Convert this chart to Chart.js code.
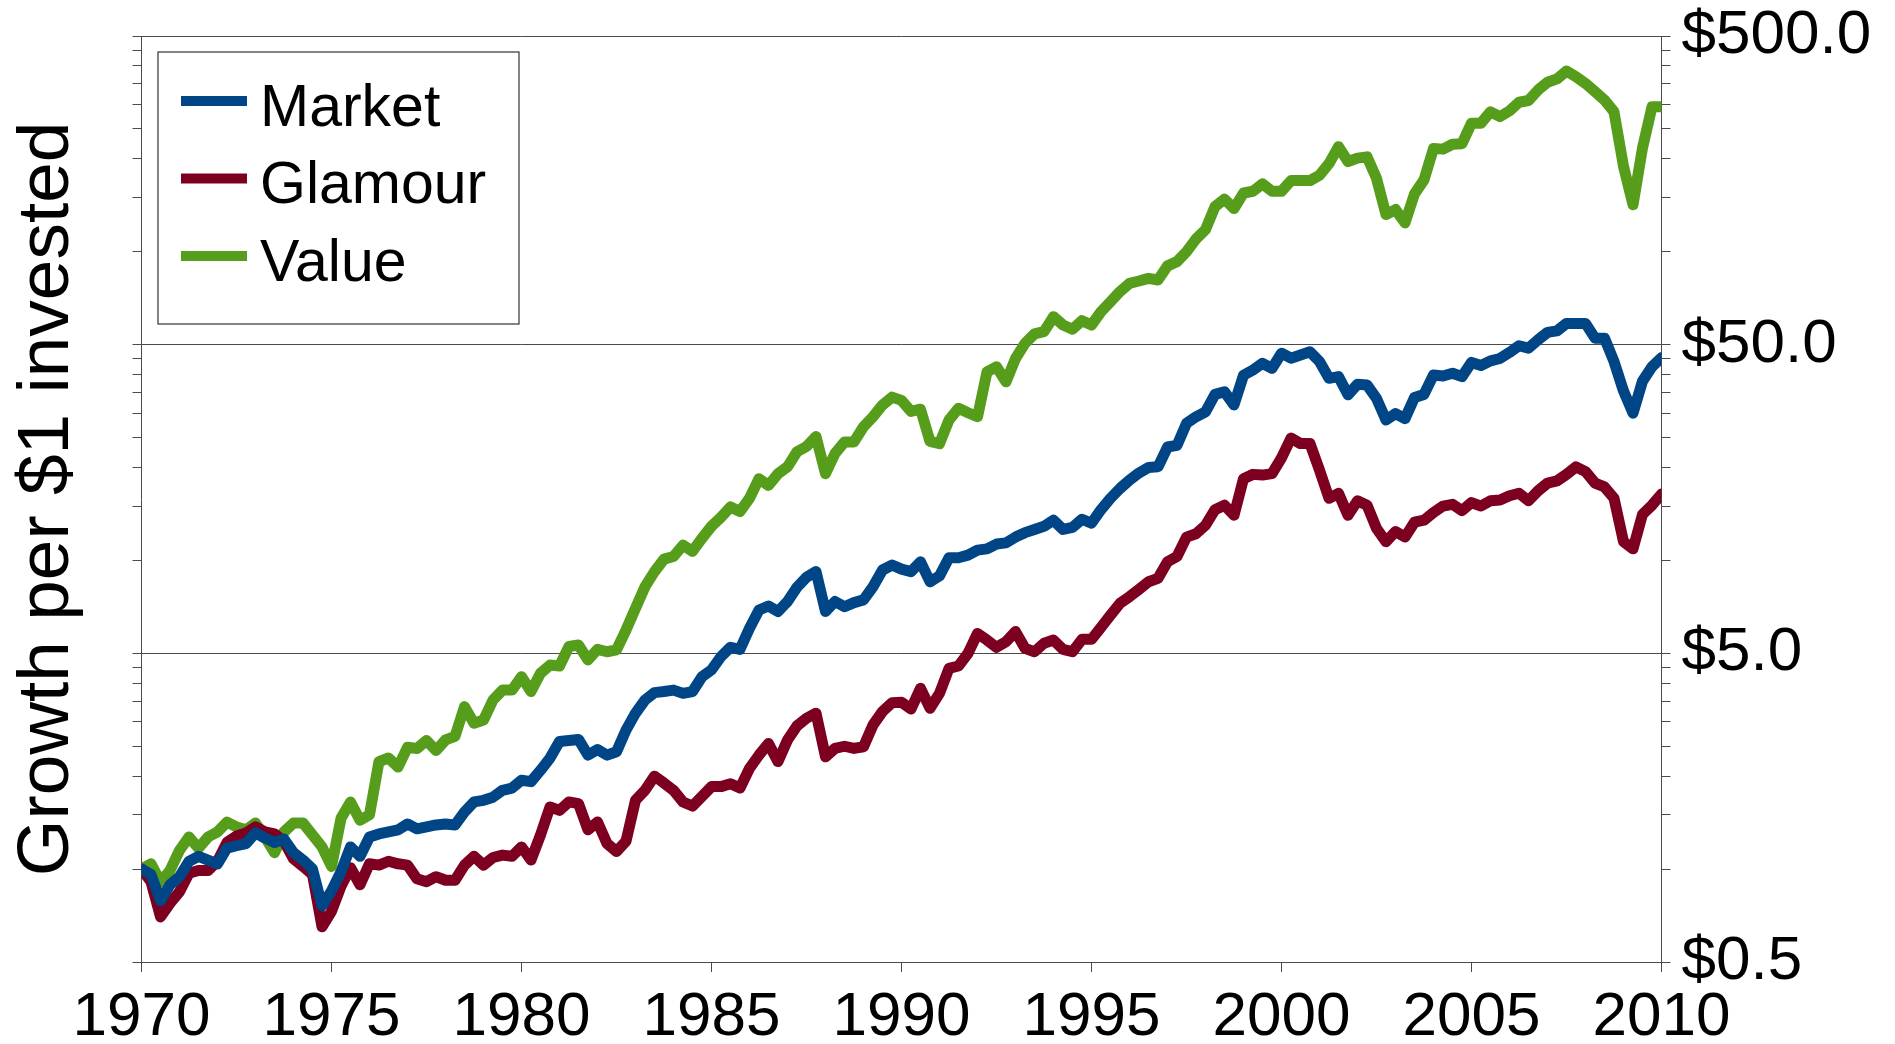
<!DOCTYPE html>
<html>
<head>
<meta charset="utf-8">
<title>Growth per $1 invested</title>
<script src="https://cdn.jsdelivr.net/npm/chart.js@4.4.1/dist/chart.umd.min.js"></script>
<style>
  html, body { margin: 0; padding: 0; background: #fff; }
  #chart { display: block; }
</style>
</head>
<body>
<canvas id="chart" width="1895" height="1044"></canvas>
<script>
// quarterly samples from Jan 1970 to Jan 2010
const quarterYears = Array.from({ length: 161 }, (_, i) => 1970 + i / 4);

// growth of $1 (one row = 2 years)
const market = [
  1.00, 0.96, 0.79, 0.89, 0.945, 1.06, 1.10, 1.07,
  1.04, 1.17, 1.19, 1.21, 1.31, 1.26, 1.22, 1.25,
  1.13, 1.07, 1.00, 0.76, 0.85, 0.98, 1.18, 1.10,
  1.27, 1.30, 1.32, 1.34, 1.40, 1.35, 1.37, 1.39,
  1.40, 1.39, 1.53, 1.65, 1.67, 1.71, 1.80, 1.83,
  1.94, 1.92, 2.09, 2.29, 2.59, 2.61, 2.63, 2.34,
  2.44, 2.34, 2.40, 2.82, 3.20, 3.53, 3.73, 3.76,
  3.80, 3.71, 3.76, 4.20, 4.42, 4.88, 5.23, 5.15,
  6.03, 6.91, 7.12, 6.83, 7.36, 8.19, 8.82, 9.20,
  6.83, 7.36, 7.08, 7.30, 7.45, 8.22, 9.31, 9.66,
  9.37, 9.20, 9.90, 8.53, 8.91, 10.2, 10.2, 10.4,
  10.8, 10.9, 11.3, 11.4, 11.9, 12.3, 12.6, 12.9,
  13.5, 12.6, 12.8, 13.6, 13.2, 14.6, 15.9, 17.1,
  18.2, 19.2, 20.0, 20.1, 23.3, 23.6, 27.8, 29.2,
  30.3, 34.5, 35.2, 31.9, 39.8, 41.4, 43.5, 41.9,
  46.9, 45.2, 46.3, 47.4, 44.1, 38.9, 39.4, 34.4,
  37.2, 37.0, 33.5, 28.5, 29.9, 28.8, 33.7, 34.5,
  39.9, 39.6, 40.4, 39.4, 43.8, 42.8, 44.3, 45.1,
  47.2, 49.6, 48.7, 51.8, 54.8, 55.4, 58.6, 58.6,
  58.6, 52.5, 52.5, 44.1, 35.4, 30.0, 38.1, 42.4,
  45.4
];

const glamour = [
  1.00, 0.91, 0.70, 0.775, 0.845, 0.97, 0.99, 0.99,
  1.06, 1.22, 1.28, 1.31, 1.37, 1.32, 1.30, 1.23,
  1.08, 1.02, 0.96, 0.65, 0.73, 0.88, 1.01, 0.89,
  1.04, 1.03, 1.06, 1.04, 1.03, 0.93, 0.91, 0.945,
  0.92, 0.92, 1.03, 1.10, 1.03, 1.09, 1.11, 1.10,
  1.18, 1.07, 1.29, 1.59, 1.55, 1.65, 1.63, 1.34,
  1.42, 1.21, 1.14, 1.23, 1.67, 1.80, 2.00, 1.90,
  1.80, 1.65, 1.60, 1.72, 1.85, 1.85, 1.89, 1.83,
  2.12, 2.34, 2.55, 2.23, 2.62, 2.91, 3.08, 3.20,
  2.31, 2.46, 2.50, 2.46, 2.49, 2.93, 3.24, 3.46,
  3.47, 3.30, 3.85, 3.32, 3.71, 4.47, 4.55, 5.00,
  5.80, 5.52, 5.23, 5.45, 5.88, 5.19, 5.06, 5.39,
  5.52, 5.15, 5.06, 5.55, 5.55, 6.07, 6.65, 7.26,
  7.63, 8.06, 8.53, 8.75, 9.9, 10.3, 11.9, 12.2,
  13.0, 14.6, 15.1, 14.0, 18.4, 19.0, 18.9, 19.1,
  21.5, 24.9, 23.9, 23.9, 19.6, 15.9, 16.5, 14.0,
  15.6, 15.1, 12.7, 11.5, 12.4, 11.9, 13.3, 13.5,
  14.3, 15.0, 15.2, 14.5, 15.4, 15.0, 15.6, 15.7,
  16.2, 16.5, 15.6, 16.8, 17.8, 18.1, 19.0, 20.1,
  19.4, 17.8, 17.3, 15.9, 11.5, 10.9, 14.1, 15.1,
  16.4
];

const value = [
  1.00, 1.04, 0.91, 0.99, 1.15, 1.27, 1.17, 1.27,
  1.32, 1.42, 1.37, 1.34, 1.41, 1.27, 1.13, 1.32,
  1.41, 1.41, 1.29, 1.18, 1.02, 1.46, 1.65, 1.44,
  1.50, 2.23, 2.29, 2.14, 2.48, 2.46, 2.61, 2.42,
  2.62, 2.69, 3.36, 2.97, 3.04, 3.53, 3.80, 3.80,
  4.20, 3.76, 4.31, 4.58, 4.55, 5.26, 5.32, 4.76,
  5.15, 5.06, 5.13, 5.95, 7.00, 8.22, 9.20, 10.1,
  10.3, 11.2, 10.7, 11.8, 12.9, 13.8, 14.9, 14.4,
  15.9, 18.4, 17.5, 19.1, 20.1, 22.5, 23.4, 25.2,
  19.1, 22.2, 24.2, 24.2, 27.1, 29.2, 31.9, 33.8,
  33.0, 30.4, 30.9, 24.3, 23.9, 28.5, 31.1, 30.1,
  29.2, 40.8, 42.4, 37.9, 45.1, 50.5, 54.2, 55.1,
  61.6, 57.9, 56.1, 59.8, 57.9, 63.9, 68.9, 74.3,
  79.0, 80.4, 82.0, 81.0, 90.0, 92.9, 100, 110,
  118, 140, 148, 138, 155, 157, 166, 157,
  157, 170, 170, 170, 177, 193, 219, 196,
  201, 203, 173, 132, 137, 124, 154, 171,
  216, 215, 223, 224, 261, 261, 284, 274,
  286, 305, 309, 334, 354, 363, 385, 369,
  351, 330, 310, 284, 189, 142, 217, 295,
  295
];

const seriesNames = ['Market', 'Glamour', 'Value'];
const seriesColors = ['#004586', '#7e0021', '#579d1c'];

const majorTicks = [0.5, 5, 50, 500];
const minorSteps = [1, 2, 3, 4, 5, 6, 7, 8, 9, 10];

const FONT = "'Liberation Sans', Arial, sans-serif";
const AXIS = '#4a4a4a';

// log axis ticks at every half-step of each decade, labels only on the major ones
const yTickValues = [];
majorTicks.slice(0, 3).forEach(base => {
  minorSteps.forEach(k => {
    const v = +(base * k).toFixed(4);
    if (!yTickValues.includes(v)) yTickValues.push(v);
  });
});

const isMajor = v => majorTicks.some(m => Math.abs(v - m) < 1e-6);

function toPoints(arr) {
  return arr.map((y, i) => ({ x: quarterYears[i], y: y }));
}

// framed legend in the top-left of the plot
const boxedLegend = {
  id: 'boxedLegend',
  afterDraw(chart) {
    const { ctx, chartArea } = chart;
    const x = chartArea.left + 16.5;
    const y = chartArea.top + 16;
    ctx.save();
    ctx.fillStyle = '#fff';
    ctx.fillRect(x, y, 361, 272);
    ctx.strokeStyle = '#333';
    ctx.lineWidth = 1.2;
    ctx.strokeRect(x, y, 361, 272);
    chart.data.datasets.forEach((ds, i) => {
      const rowY = y + 49 + i * 77.5;
      ctx.strokeStyle = ds.borderColor;
      ctx.lineWidth = 10;
      ctx.lineCap = 'butt';
      ctx.beginPath();
      ctx.moveTo(x + 23, rowY);
      ctx.lineTo(x + 89, rowY);
      ctx.stroke();
      ctx.fillStyle = '#000';
      ctx.font = '59px ' + FONT;
      ctx.textBaseline = 'middle';
      ctx.textAlign = 'left';
      ctx.fillText(ds.label, x + 102, rowY + 8.5);
    });
    ctx.restore();
  }
};

Chart.defaults.font.family = FONT;
Chart.defaults.color = '#000';

const seriesData = [market, glamour, value];

const ctx = document.getElementById('chart').getContext('2d');
new Chart(ctx, {
  type: 'line',
  data: {
    datasets: seriesNames.map((name, i) => ({
      label: name,
      data: toPoints(seriesData[i]),
      borderColor: seriesColors[i],
      backgroundColor: seriesColors[i],
      borderWidth: 11,
      pointRadius: 0,
      tension: 0,
      borderJoinStyle: 'round',
      borderCapStyle: 'round',
      yAxisID: 'y'
    }))
  },
  options: {
    responsive: false,
    animation: false,
    devicePixelRatio: 1,
    layout: { padding: { top: 36, left: 0, right: 0, bottom: 0 } },
    plugins: {
      legend: { display: false },
      tooltip: { enabled: false }
    },
    scales: {
      x: {
        type: 'linear',
        position: 'bottom',
        min: 1970,
        max: 2010,
        ticks: {
          stepSize: 5,
          font: { size: 62 },
          color: '#000',
          padding: 9,
          maxRotation: 0,
          autoSkip: false,
          callback: v => String(v)
        },
        grid: { drawOnChartArea: false, drawTicks: true, tickLength: 10, tickColor: AXIS },
        border: { color: AXIS, width: 1 },
        afterFit: s => { s.height = 82; s.paddingLeft = 0; s.paddingRight = 0; }
      },
      y: {
        type: 'logarithmic',
        position: 'right',
        min: 0.5,
        max: 500,
        afterBuildTicks: s => { s.ticks = yTickValues.map(v => ({ value: v })); },
        ticks: {
          font: { size: 62 },
          color: '#000',
          padding: 11,
          autoSkip: false,
          callback: v => isMajor(v) ? '$' + v.toFixed(1) : ''
        },
        grid: {
          color: c => (c.tick && isMajor(c.tick.value)) ? AXIS : 'rgba(0,0,0,0)',
          tickColor: AXIS,
          tickLength: 9,
          drawTicks: true
        },
        border: { color: AXIS, width: 1 },
        afterFit: s => { s.width = 233.5; s.paddingTop = 0; s.paddingBottom = 0; }
      },
      yLeft: {
        type: 'logarithmic',
        position: 'left',
        min: 0.5,
        max: 500,
        afterBuildTicks: s => { s.ticks = yTickValues.map(v => ({ value: v })); },
        ticks: { display: false },
        grid: { drawOnChartArea: false, tickColor: AXIS, tickLength: 9 },
        border: { color: AXIS, width: 1 },
        title: {
          display: true,
          text: 'Growth per $1 invested',
          font: { size: 73 },
          color: '#000',
          padding: 4
        },
        afterFit: s => { s.width = 141.5; s.paddingTop = 0; s.paddingBottom = 0; }
      }
    }
  },
  plugins: [boxedLegend]
});
</script>
</body>
</html>
